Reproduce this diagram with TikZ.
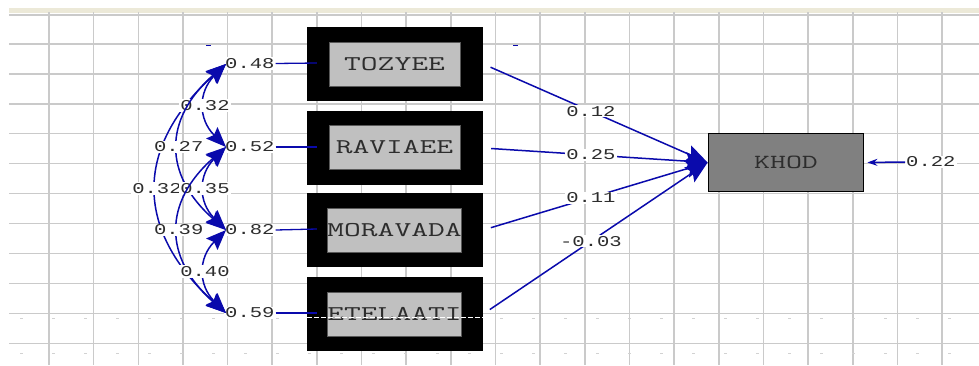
\documentclass[tikz,border=0pt]{standalone}
\usepackage{fontspec}
\usetikzlibrary{arrows.meta,calc}
\newfontfamily\numfont[FakeStretch=1.37]{Liberation Mono}
\newcommand{\widetext}[1]{\scalebox{1.55}[1]{#1}}
\definecolor{pathblue}{RGB}{10,10,172}
\definecolor{gridgray}{RGB}{202,202,202}
\definecolor{beigeband}{RGB}{236,233,216}
\definecolor{boxgray}{RGB}{192,192,192}
\definecolor{khodgray}{RGB}{128,128,128}
\definecolor{txtgray}{RGB}{45,45,45}
\begin{document}
\begin{tikzpicture}[x=1pt,y=-1pt,
  gridline/.style={gridgray, line width=1.6pt},
  outerbox/.style={fill=black, draw=none, minimum width=176pt, minimum height=74pt, inner sep=0pt},
  innerbox/.style={fill=boxgray, draw=gray!70!black, line width=0.4pt, minimum width=131pt, minimum height=44pt, inner sep=0pt, font=\ttfamily\fontsize{21}{21}\selectfont, text=txtgray},
  num/.style={font=\numfont\fontsize{15}{15}\selectfont, text=txtgray, fill=white, inner sep=1pt},
  conn/.style={pathblue, line width=1.5pt},
  cov/.style={conn, {Stealth[length=20pt,width=16pt,inset=3pt]}-{Stealth[length=20pt,width=16pt,inset=3pt]}},
  reg/.style={conn, -{Stealth[length=22pt,width=18pt,inset=4pt]}},
]
\useasboundingbox (0,0) rectangle (979,365);
\fill[white] (0,0) rectangle (979,365);
% window frame and grid
\fill[beigeband] (9,8) rectangle (979,12.5);
\foreach \k in {0,...,20} \draw[gridline] ({49+44.65*\k},12) -- ({49+44.65*\k},365);
\draw[gridline, line width=1.2pt] (9,15) -- (979,15);
\foreach \k in {0,...,10} \draw[gridline, line width=1.3pt] (9,{44+29.93*\k}) -- (979,{44+29.93*\k});
\draw[gray!35, line width=1pt, dash pattern=on 3pt off 29pt] (20,318) -- (979,318);
\draw[gray!35, line width=1pt, dash pattern=on 3pt off 29pt] (20,353) -- (979,353);
\draw[pathblue, line width=0.8pt] (206,45) -- (211,45);
\draw[pathblue, line width=0.8pt] (513,45) -- (518,45);

% observed variables
\node[outerbox] (o1) at (395,64) {};
\node[innerbox] (t1) at (394.5,64) {\widetext{TOZYEE}};
\node[outerbox] (o2) at (395,148) {};
\node[innerbox] (t2) at (394.5,147.5) {\widetext{RAVIAEE}};
\node[outerbox] (o3) at (395,230) {};
\node[innerbox] (t3) at (394.5,230.5) {\widetext{MORAVADA}};
\node[outerbox] (o4) at (395,314) {};
\node[innerbox] (t4) at (394.5,314) {\widetext{ETELAATI}};
\draw[white, line width=1pt, dash pattern=on 5pt off 2pt] (o4.west |- 0,317) -- (o4.east |- 0,317);

% dependent variable
\node[draw=black, line width=1.8pt, fill=khodgray, minimum width=155pt, minimum height=58pt, inner sep=0pt, font=\ttfamily\fontsize{20}{20}\selectfont, text=txtgray] (khod) at (786,162.5) {\widetext{KHOD}};

% regression paths
\draw[reg, shorten <=8pt] (o1.east) -- (khod.west) node[num, pos=0.48] {0.12};
\draw[reg, shorten <=8pt] (o2.east) -- (khod.west) node[num, pos=0.48] {0.25};
\draw[reg, shorten <=8pt] (o3.east) -- (khod.west) node[num, pos=0.48] {0.11};
\draw[reg, shorten <=8pt] (o4.east) -- (khod.west) node[num, pos=0.48] {-0.03};

% residual of KHOD
\node[num, anchor=west] (r) at (905,162) {0.22};
\draw[conn, -{Stealth[length=10pt,width=7pt]}, shorten >=3pt] (r.west) -- (khod.east);

% error terms
\coordinate (e1) at (226,64);
\coordinate (e2) at (226,147);
\coordinate (e3) at (226,230);
\coordinate (e4) at (226,313);
\node[num, anchor=west] (l1) at (224,63.5) {0.48};
\node[num, anchor=west] (l2) at (224,147) {0.52};
\node[num, anchor=west] (l3) at (224,230) {0.82};
\node[num, anchor=west] (l4) at (224,313) {0.59};
\draw[conn, line width=1.3pt] (l1.east) -- ($(o1.west)+(10,-1)$);
\draw[conn, line width=1.3pt] (l2.east) -- ($(o2.west)+(10,-1)$);
\draw[conn, line width=1.3pt] (l3.east) -- ($(o3.west)+(10,-1)$);
\draw[conn, line width=1.3pt] (l4.east) -- ($(o4.west)+(10,-1)$);

% error covariances
\draw[cov] (e1) .. controls (134,147) and (134,230) .. (e4) node[num, pos=0.5] {0.32};
\draw[cov] (e1) .. controls (198,92) and (198,119) .. (e2) node[num, pos=0.5] {0.32};
\draw[cov] (e1) .. controls (163,119) and (163,175) .. (e3) node[num, pos=0.5] {0.27};
\draw[cov] (e2) .. controls (198,175) and (198,202) .. (e3) node[num, pos=0.5] {0.35};
\draw[cov] (e2) .. controls (163,202) and (163,258) .. (e4) node[num, pos=0.5] {0.39};
\draw[cov] (e3) .. controls (198,258) and (198,285) .. (e4) node[num, pos=0.5] {0.40};
\end{tikzpicture}
\end{document}
